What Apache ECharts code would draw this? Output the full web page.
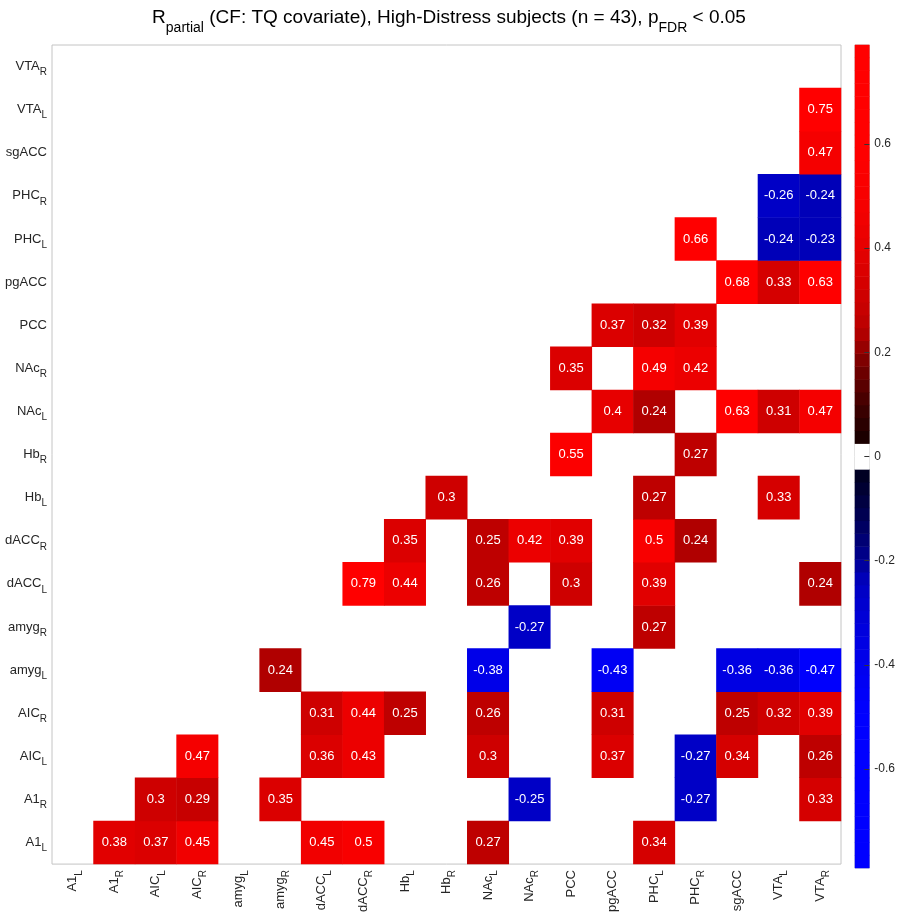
<!DOCTYPE html>
<html><head><meta charset="utf-8">
<script src="https://cdn.jsdelivr.net/npm/echarts@6/dist/echarts.min.js"></script>
<style>html,body{margin:0;padding:0;background:#fff}#c{width:898px;height:915px}</style>
</head><body><div id="c"></div>
<script>
// ---- data ----
const regions = ['A1_L','A1_R','AIC_L','AIC_R','amyg_L','amyg_R','dACC_L','dACC_R','Hb_L','Hb_R',
                 'NAc_L','NAc_R','PCC','pgACC','PHC_L','PHC_R','sgACC','VTA_L','VTA_R'];
const n = null;
// each row: partial r of that region with every column region (null = not significant)
const rA1_L   = [n,.38,.37,.45,n,n,.45,.5,n,n,.27,n,n,n,.34,n,n,n,n];
const rA1_R   = [n,n,.3,.29,n,.35,n,n,n,n,n,-.25,n,n,n,-.27,n,n,.33];
const rAIC_L  = [n,n,n,.47,n,n,.36,.43,n,n,.3,n,n,.37,n,-.27,.34,n,.26];
const rAIC_R  = [n,n,n,n,n,n,.31,.44,.25,n,.26,n,n,.31,n,n,.25,.32,.39];
const ramyg_L = [n,n,n,n,n,.24,n,n,n,n,-.38,n,n,-.43,n,n,-.36,-.36,-.47];
const ramyg_R = [n,n,n,n,n,n,n,n,n,n,n,-.27,n,n,.27,n,n,n,n];
const rdACC_L = [n,n,n,n,n,n,n,.79,.44,n,.26,n,.3,n,.39,n,n,n,.24];
const rdACC_R = [n,n,n,n,n,n,n,n,.35,n,.25,.42,.39,n,.5,.24,n,n,n];
const rHb_L   = [n,n,n,n,n,n,n,n,n,.3,n,n,n,n,.27,n,n,.33,n];
const rHb_R   = [n,n,n,n,n,n,n,n,n,n,n,n,.55,n,n,.27,n,n,n];
const rNAc_L  = [n,n,n,n,n,n,n,n,n,n,n,n,n,.4,.24,n,.63,.31,.47];
const rNAc_R  = [n,n,n,n,n,n,n,n,n,n,n,n,.35,n,.49,.42,n,n,n];
const rPCC    = [n,n,n,n,n,n,n,n,n,n,n,n,n,.37,.32,.39,n,n,n];
const rpgACC  = [n,n,n,n,n,n,n,n,n,n,n,n,n,n,n,n,.68,.33,.63];
const rPHC_L  = [n,n,n,n,n,n,n,n,n,n,n,n,n,n,n,.66,n,-.24,-.23];
const rPHC_R  = [n,n,n,n,n,n,n,n,n,n,n,n,n,n,n,n,n,-.26,-.24];
const rsgACC  = [n,n,n,n,n,n,n,n,n,n,n,n,n,n,n,n,n,n,.47];
const rVTA_L  = [n,n,n,n,n,n,n,n,n,n,n,n,n,n,n,n,n,n,.75];
const rVTA_R  = [n,n,n,n,n,n,n,n,n,n,n,n,n,n,n,n,n,n,n];
const rows = [rA1_L,rA1_R,rAIC_L,rAIC_R,ramyg_L,ramyg_R,rdACC_L,rdACC_R,rHb_L,rHb_R,
              rNAc_L,rNAc_R,rPCC,rpgACC,rPHC_L,rPHC_R,rsgACC,rVTA_L,rVTA_R];
const cMin = -0.79, cMax = 0.79;
const cbTicks = [-0.6,-0.4,-0.2,0,0.2,0.4,0.6];

// ---- build ----
const FONT = 'Liberation Sans, Arial, Helvetica, sans-serif';
const cells = [];
rows.forEach((row, i) => row.forEach((v, j) => { if (v !== null) cells.push([j, i, v]); }));

// colormap: 64 discrete levels, white centre, black -> saturated red/blue
const NLEV = 64, dLev = (cMax - cMin) / NLEV;
const ia = [0, 0.05, 0.1, 0.15, 0.2, 0.225, 0.25, 0.275, 0.3, 0.35, 0.4, 0.45, 0.5, 0.55, 0.6, 1];
const iv = [5, 35, 65, 100, 138, 170, 186, 196, 204, 217, 230, 240, 248, 252, 255, 255];
function inten(a) {
  for (let k = 1; k < ia.length; k++) if (a <= ia[k]) {
    const t = (a - ia[k-1]) / (ia[k] - ia[k-1]); return Math.round(iv[k-1] + t * (iv[k] - iv[k-1]));
  }
  return 255;
}
const pieces = [], cbData = [], cbCats = [];
for (let k = 0; k < NLEV; k++) {
  const lo = cMin + k * dLev, hi = lo + dLev, c = (lo + hi) / 2;
  let col;
  if (k === 31 || k === 32) col = '#ffffff';
  else {
    const I = inten(Math.abs(c));
    col = c > 0 ? `rgb(${I},0,0)` : `rgb(0,0,${Math.min(255, I + 8)})`;
  }
  const p = { gte: lo, color: col };
  if (k < NLEV - 1) p.lt = hi; else p.lte = hi + 1e-9;
  if (k === 0) p.gte = lo - 1e-9;
  pieces.push(p);
  cbCats.push(String(k));
  cbData.push([0, k, c]);
}

function fmtLabel(s) {
  const parts = s.split('_');
  return parts.length > 1 ? `{m|${parts[0]}}{s|${parts[1]}}` : `{m|${s}}`;
}
const labRich = {
  m: { fontSize: 13, color: '#262626', fontFamily: FONT },
  s: { fontSize: 10, color: '#262626', fontFamily: FONT, padding: [12, 0, 0, 0] }
};

const chart = echarts.init(document.getElementById('c'), null, { renderer: 'canvas' });
chart.setOption({
  backgroundColor: '#ffffff',
  animation: false,
  title: {
    text: '{m|R}{s|partial}{m| (CF: TQ covariate), High-Distress subjects (n = 43), p}{s|FDR}{m| < 0.05}',
    left: 'center', top: 0, padding: [0, 5, 0, 0],
    textStyle: { fontWeight: 'normal', rich: {
      m: { fontSize: 19, color: '#000', fontFamily: FONT, fontWeight: 'normal' },
      s: { fontSize: 14, color: '#000', fontFamily: FONT, fontWeight: 'normal', padding: [21, 0, 0, 0] }
    } }
  },
  grid: [
    { left: 52, right: 57, top: 45, bottom: 46, show: true, borderColor: '#c4c4c4', borderWidth: 1 },
    { left: 855, width: 20, top: 45, bottom: 47, show: true, borderColor: '#bbbbbb', borderWidth: 1 }
  ],
  xAxis: [
    { type: 'category', gridIndex: 0, data: regions, axisTick: { show: false },
      axisLine: { show: false }, splitLine: { show: false },
      axisLabel: { rotate: 90, margin: 6, interval: 0, formatter: fmtLabel, rich: labRich } },
    { type: 'category', gridIndex: 1, data: ['cb'], show: false }
  ],
  yAxis: [
    { type: 'category', gridIndex: 0, data: regions, axisTick: { show: false },
      axisLine: { show: false }, splitLine: { show: false },
      axisLabel: { margin: 5, interval: 0, formatter: fmtLabel, rich: labRich } },
    { type: 'category', gridIndex: 1, data: cbCats, show: false },
    { type: 'value', gridIndex: 1, position: 'right', min: cMin, max: cMax, z: 10,
      axisLine: { show: false }, splitLine: { show: false },
      axisTick: { show: true, inside: true, length: 5, customValues: cbTicks, lineStyle: { color: '#333', width: 1 } },
      axisLabel: { margin: 5, customValues: cbTicks, fontSize: 12, color: '#262626', fontFamily: FONT,
        formatter: v => String(Math.round(v * 10) / 10) } }
  ],
  visualMap: {
    type: 'piecewise', show: false, seriesIndex: [0, 1], dimension: 2, pieces: pieces
  },
  series: [
    { type: 'heatmap', xAxisIndex: 0, yAxisIndex: 0, data: cells,
      label: { show: true, color: '#ffffff', fontSize: 13, fontFamily: FONT,
        formatter: p => String(p.value[2]) },
      itemStyle: { borderWidth: 0 }, emphasis: { disabled: true } },
    { type: 'heatmap', xAxisIndex: 1, yAxisIndex: 1, data: cbData, z: 1,
      itemStyle: { borderWidth: 0 }, emphasis: { disabled: true } }
  ]
});
</script></body></html>
